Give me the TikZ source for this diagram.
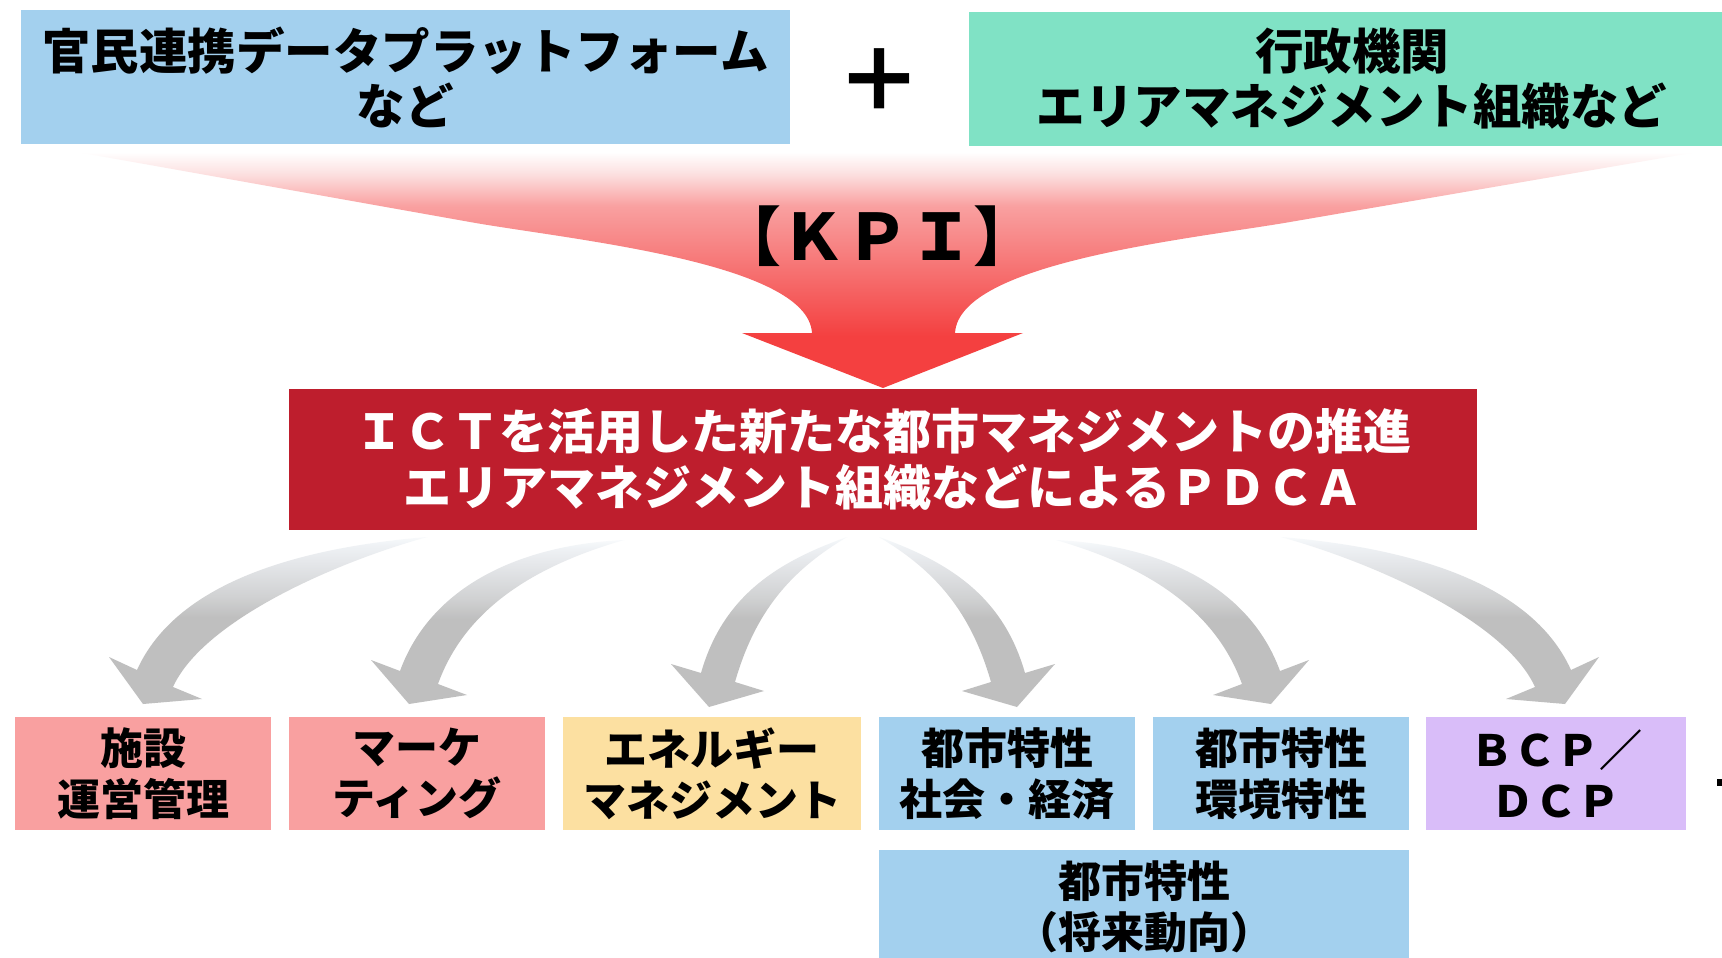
\documentclass[tikz,border=0pt]{standalone}
\usepackage{fontspec}
\setmainfont{Noto Sans CJK JP}
\usetikzlibrary{calc}
\definecolor{cblue}{RGB}{163,208,238}
\definecolor{cgreen}{RGB}{128,226,197}
\definecolor{cred}{RGB}{190,30,45}
\definecolor{cpink}{RGB}{249,160,160}
\definecolor{cyel}{RGB}{252,224,161}
\definecolor{cpurp}{RGB}{217,189,249}
\definecolor{fr1}{RGB}{252,225,225}
\definecolor{fr2}{RGB}{249,160,160}
\definecolor{fr3}{RGB}{246,112,112}
\definecolor{fr4}{RGB}{244,64,64}
\definecolor{g0}{RGB}{248,250,252}
\definecolor{g1}{RGB}{240,243,246}
\definecolor{g2}{RGB}{228,230,233}
\definecolor{g3}{RGB}{208,209,210}
\definecolor{g4}{RGB}{191,191,191}
\pgfdeclareverticalshading{redfun}{100bp}{color(0bp)=(fr4); color(36bp)=(fr4); color(49.5bp)=(fr3); color(63.5bp)=(fr2); color(70.5bp)=(fr1); color(75bp)=(white); color(100bp)=(white)}
\pgfdeclareverticalshading{grayarr}{100bp}{color(0bp)=(g4); color(51bp)=(g4); color(57bp)=(g3); color(67bp)=(g2); color(73bp)=(g1); color(75bp)=(g0); color(100bp)=(g0)}
\begin{document}
\begin{tikzpicture}[x=1pt,y=-1pt,
  box/.style={inner sep=0pt, outer sep=0pt, align=center, text=black},
  topfont/.style={font=\fontsize{48.5}{55}\selectfont\bfseries},
  botfont/.style={font=\fontsize{43}{51}\selectfont\bfseries},
  smallbox/.style={box, botfont, minimum width=256pt, minimum height=113pt},
  grayarrow/.style={shading=grayarr}]
\useasboundingbox (0,0) rectangle (1722,958);
\fill[white] (0,0) rectangle (1722,958);

% red funnel arrow
\shade[shading=redfun] (77,152) -- (470,222) .. controls (568,239.5) and (808,262) .. (812,333)
  -- (742,333) -- (883,388) -- (1023,333) -- (955,333)
  .. controls (959,262) and (1191.5,239) .. (1290,222) -- (1697,152) -- cycle;

% top boxes
\node[box, topfont, fill=cblue, minimum width=769pt, minimum height=134pt] (tl) at (405.5,77)
  {官民連携データプラットフォーム\\など};
\node[box, topfont, fill=cgreen, minimum width=766pt, minimum height=134pt] (tr) at (1352,79)
  {行政機関\\エリアマネジメント組織など};
\node[box, font=\fontsize{86}{86}\selectfont\bfseries] (plus) at (879,80) {＋};

\node[box, font=\fontsize{64}{64}\selectfont\bfseries] (kpi) at (877,236) {【ＫＰＩ】};

% central red box
\node[box, fill=cred, text=white, font=\fontsize{48}{56}\selectfont\bfseries,
  minimum width=1188pt, minimum height=141pt] (ict) at (883,459.5)
  {ＩＣＴを活用した新たな都市マネジメントの推進\\エリアマネジメント組織などによるＰＤＣＡ};

% gray curved arrows
\shade[grayarrow] (427,537) .. controls (307,547) and (178,579) .. (137,670) -- (109,657) -- (143,704)
  -- (202,699) -- (173,687) .. controls (202,623) and (327,565) .. (427,537) -- cycle;
\shade[grayarrow] (624,540) .. controls (520,545) and (431,586) .. (400,671) -- (371,660) -- (409,704)
  -- (467,695) -- (438,684) .. controls (465,609) and (534,566) .. (624,540) -- cycle;
\shade[grayarrow] (847,537) .. controls (777,562) and (723,596) .. (701,673) -- (671,664) -- (709,707)
  -- (764,691) -- (735,682) .. controls (757,605) and (797,567) .. (847,537) -- cycle;
\shade[grayarrow] (879,537) .. controls (949,562) and (1003,596) .. (1025,673) -- (1055,664) -- (1017,707)
  -- (962,691) -- (991,682) .. controls (969,605) and (929,567) .. (879,537) -- cycle;
\shade[grayarrow] (1056,540) .. controls (1160,545) and (1249,586) .. (1280,671) -- (1309,660) -- (1271,704)
  -- (1213,695) -- (1242,684) .. controls (1215,609) and (1146,566) .. (1056,540) -- cycle;
\shade[grayarrow] (1281,537) .. controls (1401,547) and (1530,579) .. (1571,670) -- (1599,657) -- (1565,704)
  -- (1506,699) -- (1535,687) .. controls (1506,623) and (1381,565) .. (1281,537) -- cycle;

% bottom boxes
\node[smallbox, fill=cpink] (b1) at (143,773.5) {施設\\運営管理};
\node[smallbox, fill=cpink] (b2) at (417,773.5) {マーケ\\ティング};
\node[smallbox, fill=cyel, minimum width=298pt] (b3) at (712,773.5) {エネルギー\\マネジメント};
\node[smallbox, fill=cblue] (b4) at (1007,773.5) {都市特性\\社会・経済};
\node[smallbox, fill=cblue] (b5) at (1281,773.5) {都市特性\\環境特性};
\node[smallbox, fill=cpurp, minimum width=260pt] (b6) at (1556,773.5) {ＢＣＰ／\\ＤＣＰ};
\node[smallbox, fill=cblue, minimum width=530pt, minimum height=114pt] (b7) at (1144,907) {都市特性\\（将来動向）};

\fill[black] (1717,779) rectangle (1722,786);
\end{tikzpicture}
\end{document}
